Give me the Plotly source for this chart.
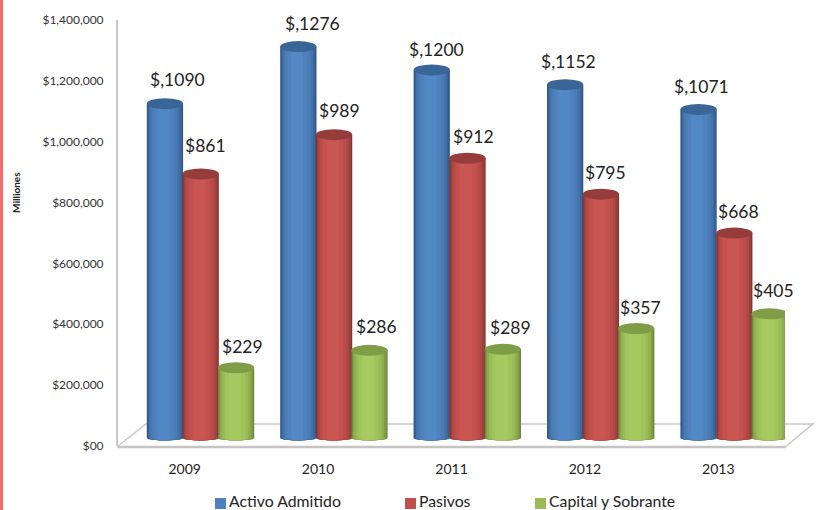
import plotly.graph_objects as go

years = ["2009", "2010", "2011", "2012", "2013"]
activo = [1090, 1276, 1200, 1152, 1071]
pasivos = [861, 989, 912, 795, 668]
capital = [229, 286, 289, 357, 405]
tick_values = [0, 200000, 400000, 600000, 800000, 1000000, 1200000, 1400000]
tick_labels = ["$00", "$200,000", "$400,000", "$600,000", "$800,000", "$1,000,000", "$1,200,000", "$1,400,000"]

W, H = 822, 510
L, R, T, B = 118, 785, 20, 446
PW, PH = R - L, B - T
FONT = "Lato"
px = lambda x: (x - L) / PW
py = lambda y: (B - y) / PH

series = [
    ("Activo Admitido", activo, -0.268, "#4F81BD", ["#2F5687", "#3A6699", "#4473AB", "#4A7BB6", "#4F81BD", "#5388C6"], "#3A6597"),
    ("Pasivos", pasivos, 0.0, "#C0504D", ["#853533", "#9C3F3C", "#AE4845", "#BA4D4A", "#C4514E", "#CA5653"], "#963C3A"),
    ("Capital y Sobrante", capital, 0.265, "#9BBB59", ["#6B843A", "#7F9C46", "#8FAE50", "#99BA57", "#A1C35C", "#A6C960"], "#7F9C46"),
]
layers = [1.0, 0.93, 0.84, 0.72, 0.56, 0.34]
shifts = [0, 0, -0.004, -0.006, -0.008, -0.01]
BAR_W = 0.272
# secondary axes: the drawn columns sit on a floor offset from the tick scale
X_SHIFT = 16 / (PW / 5)
Y_UNIT = 3.26  # value units per pixel for columns
y2_range = [-8 * Y_UNIT, (438 - T) * Y_UNIT]
cap_h = 11 * Y_UNIT
foot_h = 5 * Y_UNIT

fig = go.Figure()
# invisible trace keeps the tick axes alive
fig.add_trace(go.Scatter(x=[0], y=[0], mode="markers", marker=dict(opacity=0), showlegend=False, hoverinfo="skip"))
shapes = []
shapes.append(dict(type="rect", xref="paper", yref="paper", x0=px(0), x1=px(3), y0=py(0), y1=py(H),
                   fillcolor="#F96B6B", line_width=0, layer="below"))
floor = f"M{px(118)},{py(446)} L{px(146)},{py(424)} L{px(813)},{py(424)} L{px(785)},{py(447)} L{px(118)},{py(447)} Z"
shapes.append(dict(type="path", xref="paper", yref="paper", path=floor, fillcolor="white",
                   line=dict(color="#C8C8C8", width=1.5), layer="below"))
shapes.append(dict(type="line", xref="paper", yref="paper", x0=px(118), x1=px(785), y0=py(447), y1=py(447),
                   line=dict(color="#C4C4C4", width=2.5), layer="below"))

caps = []
for name, vals, off, base, cols, capc in series:
    xs = [i + off for i in range(len(years))]
    for k, (f, c, sh) in enumerate(zip(layers, cols, shifts)):
        fig.add_trace(go.Bar(
            x=[v + sh for v in xs], y=[v * 1000 for v in vals], width=BAR_W * f,
            marker=dict(color=c, line_width=0), xaxis="x2", yaxis="y2",
            name=name, showlegend=False, hoverinfo="skip"))
        for xv in xs:
            w = BAR_W * f / 2
            shapes.append(dict(type="circle", xref="x2", yref="y2", x0=xv + sh - w, x1=xv + sh + w,
                               y0=-foot_h / 2 * 1000, y1=foot_h / 2 * 1000, fillcolor=c, line_width=0, layer="below"))
    for xv, v in zip(xs, vals):
        caps.append(dict(type="circle", xref="x2", yref="y2", x0=xv - BAR_W / 2, x1=xv + BAR_W / 2,
                         y0=(v - cap_h / 2) * 1000, y1=(v + cap_h / 2) * 1000,
                         fillcolor=capc, line_width=0, layer="above"))
shapes += caps

# label nudges in pixels, relative to the column top
label_dx = [[13, 5, 6], [14, 5, 7], [5, 6, 8], [3, 5, 4], [3, 4, 4]]
label_dy = [[24, 28, 21], [23, 24, 24], [20, 22, 22], [23, 22, 21], [23, 22, 23]]
annotations = []
for j, (name, vals, off, base, cols, capc) in enumerate(series):
    for i, v in enumerate(vals):
        annotations.append(dict(x=i + off, y=v * 1000, xref="x2", yref="y2", text=f"$,{v}" if j == 0 else f"${v}",
                                showarrow=False, xshift=label_dx[i][j], yshift=label_dy[i][j],
                                font=dict(family=FONT, size=17.5, color="#222222")))
annotations.append(dict(x=px(16), y=py(193), xref="paper", yref="paper", text="<b>Milliones</b>", textangle=-90,
                        xanchor="center", yanchor="middle",
                        showarrow=False, font=dict(family=FONT, size=10, color="#222222")))

# legend keys
legend_x = [215, 405, 535]
for (name, vals, off, base, cols, capc), lx in zip(series, legend_x):
    shapes.append(dict(type="rect", xref="paper", yref="paper", x0=px(lx), x1=px(lx + 11), y0=py(498), y1=py(509),
                       fillcolor=base, line_width=0))
    annotations.append(dict(x=px(lx + 12), y=py(500.5), xref="paper", yref="paper", text=name, showarrow=False,
                            xanchor="left", yanchor="middle", font=dict(family=FONT, size=15.8, color="#222222")))

fig.update_layout(
    width=W, height=H, autosize=False, paper_bgcolor="white", plot_bgcolor="rgba(0,0,0,0)",
    margin=dict(l=L, r=W - R, t=T, b=H - B, autoexpand=False), barmode="overlay", shapes=shapes, annotations=annotations,
    xaxis=dict(range=[-0.5, 4.5], tickvals=list(range(5)), ticktext=years, showgrid=False, zeroline=False,
               showline=False, ticks="", ticklabelstandoff=13, tickfont=dict(family=FONT, size=14, color="#222222")),
    yaxis=dict(range=[0, 1400000], tickvals=tick_values, ticktext=tick_labels, showgrid=False, zeroline=False,
               showline=True, linecolor="#C8C8C8", linewidth=2, ticks="", ticklabelstandoff=10,
               tickfont=dict(family=FONT, size=12, color="#333333")),
    xaxis2=dict(overlaying="x", range=[-0.5 - X_SHIFT, 4.5 - X_SHIFT], visible=False, anchor="y2"),
    yaxis2=dict(overlaying="y", range=[v * 1000 for v in y2_range], visible=False, anchor="x2"),
    showlegend=False,
)
fig.write_html("out.html", config={"displayModeBar": False},
               post_script="document.body.style.margin='0';document.body.style.overflow='hidden';")
